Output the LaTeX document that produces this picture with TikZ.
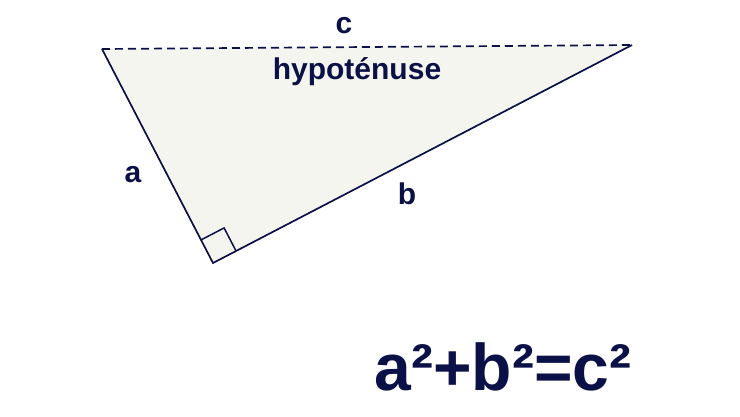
\documentclass[tikz,border=0pt]{standalone}
\usepackage{fontspec}
\setmainfont{Liberation Sans}
\usetikzlibrary{calc}
\definecolor{navy}{HTML}{0B1047}
\definecolor{paper}{HTML}{F4F5EE}
\tikzset{lbl/.style={text=navy,anchor=base,font=\bfseries\fontsize{30}{34}\selectfont},
  side/.style={navy,line width=1.7pt}}

\begin{document}
\begin{tikzpicture}[x=1pt,y=-1pt]
\useasboundingbox (0,0) rectangle (740,416);

% the three corners
\coordinate (A) at (102,49);
\coordinate (B) at (632,45);
\coordinate (C) at (213,263);

\fill[paper] (A) -- (B) -- (C) -- cycle;
\draw[side] (B) -- (C) -- (A);
\draw[side,dash pattern=on 8pt off 5pt] (A) -- (B);

% right angle mark
\coordinate (ra) at ($(C)!26pt!(A)$);
\coordinate (rb) at ($(C)!26pt!(B)$);
\draw[side,line width=1.5pt] (ra) -- ($(ra)+(rb)-(C)$) -- (rb);

% labels
\node[lbl] (lc) at (344,33) {c};
\node[lbl] (lhyp) at (357,79) {hypoténuse};
\node[lbl] (la) at (133,182) {a};
\node[lbl] (lb) at (407,204) {b};

% formula
\node[lbl,font=\bfseries\fontsize{66}{72}\selectfont] (formula) at (503,390) {a²+b²=c²};

\end{tikzpicture}
\end{document}
